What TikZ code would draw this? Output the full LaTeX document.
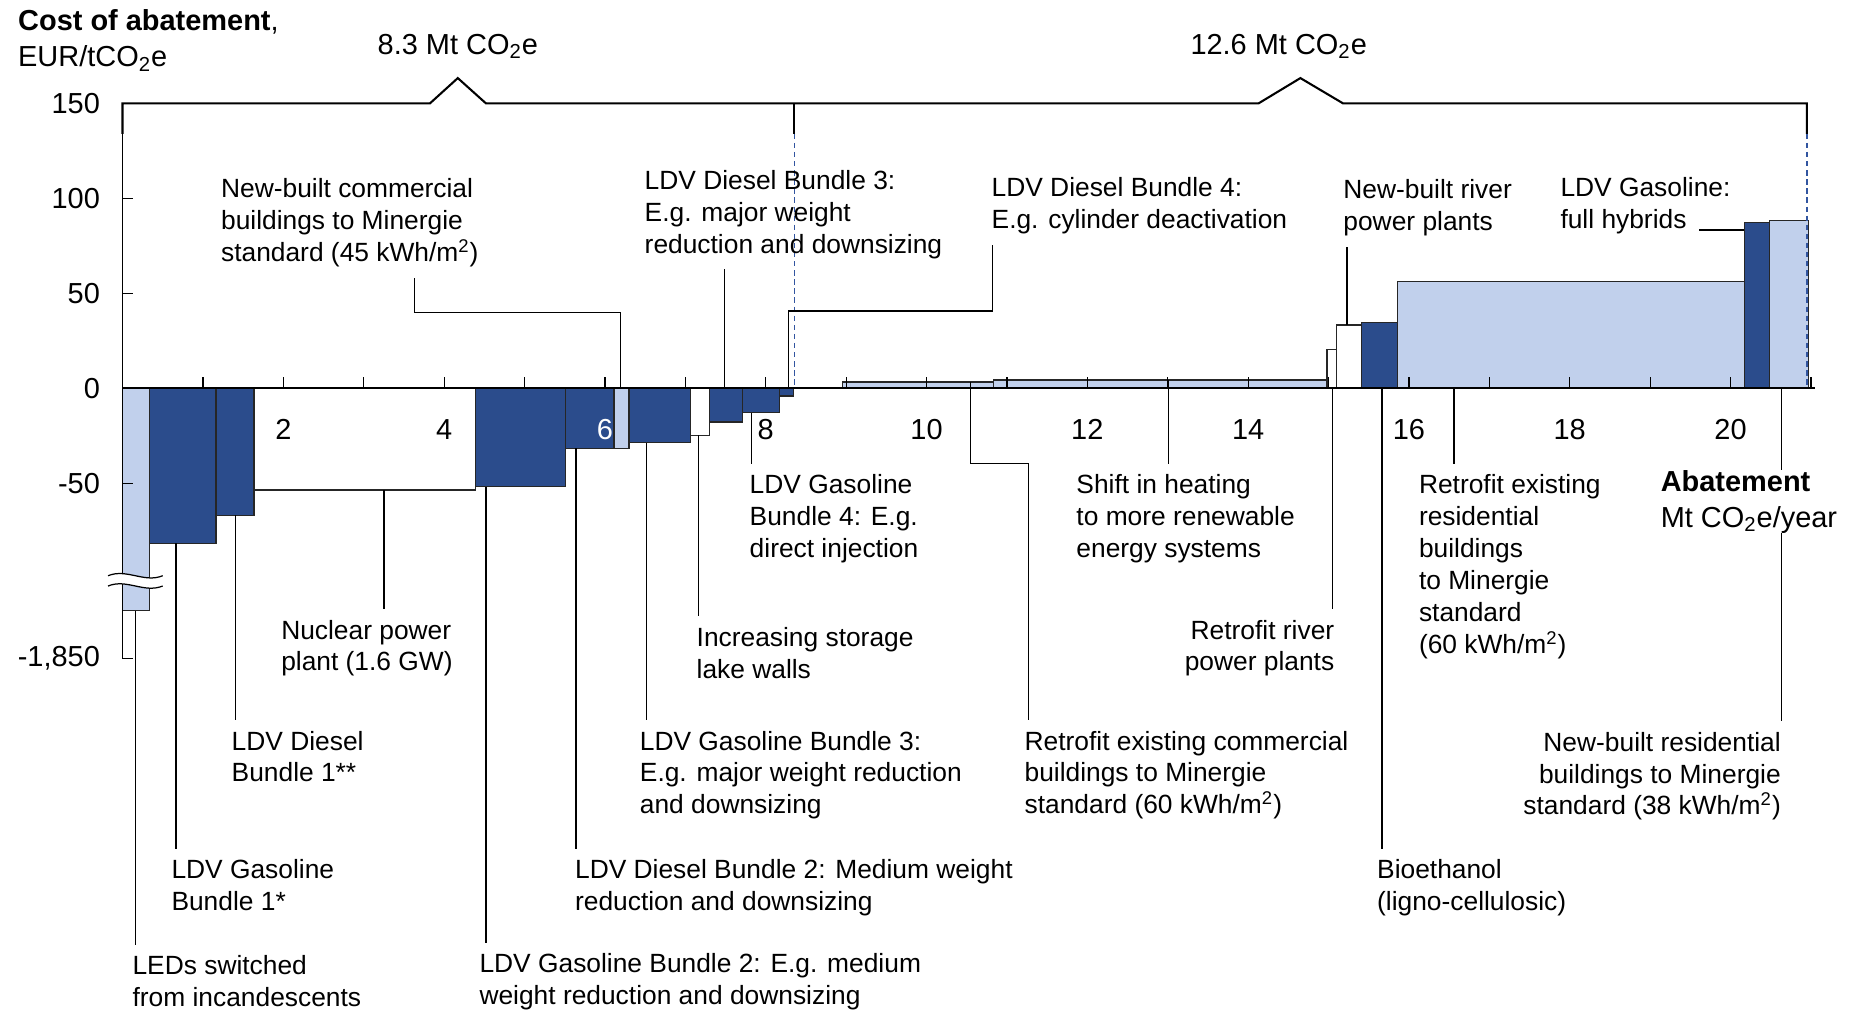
\documentclass[tikz,border=0pt]{standalone}
\usepackage{fontspec}
\setmainfont{Liberation Sans}
\usepackage{tikz}
\definecolor{macdark}{RGB}{43,76,140}
\definecolor{maclight}{RGB}{193,208,236}
\definecolor{macdash}{RGB}{50,85,160}
\tikzset{
  lbl/.style={font=\fontsize{12.75}{15.4}\selectfont, inner sep=0pt, align=left, anchor=north west},
  lblr/.style={lbl, align=right, anchor=north east},
  axlbl/.style={font=\fontsize{14}{17.4}\selectfont, inner sep=0pt},
  darkbar/.style={fill=macdark, draw=black!85, line width=0.6pt},
  lightbar/.style={fill=maclight, draw=black!85, line width=0.6pt},
  whitebar/.style={fill=white, draw=black!85, line width=0.6pt},
  leader/.style={draw=black, line width=0.6pt, shorten >=5pt},
  thinline/.style={line width=0.6pt},
  thickline/.style={line width=1pt},
  totdash/.style={macdash, line width=0.9pt, dash pattern=on 2.6pt off 1.8pt},
}

\begin{document}
\begin{tikzpicture}[x=1.3668cm, y=0.0323cm]
\useasboundingbox (-1.524,-328.3) rectangle (21.486,204.4);

% bars, left to right
\draw[lightbar] (0,0) rectangle (0.34,-117);
\draw[darkbar] (0.34,0) rectangle (1.163,-81.6);
\draw[darkbar] (1.163,0) rectangle (1.635,-66.7);
\draw[whitebar] (1.635,0) rectangle (4.393,-53.5);
\draw[darkbar] (4.393,0) rectangle (5.51,-51.8);
\draw[darkbar] (5.51,0) rectangle (6.113,-31.6);
\draw[lightbar] (6.113,0) rectangle (6.30,-31.6);
\draw[darkbar] (6.30,0) rectangle (7.06,-28.6);
\draw[whitebar] (7.06,0) rectangle (7.30,-24.6);
\draw[darkbar] (7.30,0) rectangle (7.714,-17.7);
\draw[darkbar] (7.714,0) rectangle (8.17,-12.8);
\draw[darkbar] (8.17,0) rectangle (8.344,-4);
\draw[lightbar] (8.957,0) rectangle (10.83,3.3);
\draw[lightbar] (10.83,0) rectangle (14.98,4.4);
\draw[whitebar] (14.98,0) rectangle (15.10,20.5);
\draw[whitebar] (15.10,0) rectangle (15.41,33.3);
\draw[darkbar] (15.41,0) rectangle (15.86,34.5);
\draw[lightbar] (15.86,0) rectangle (20.17,56.1);
\draw[darkbar] (20.17,0) rectangle (20.48,87.2);
\draw[lightbar] (20.48,0) rectangle (20.97,88.2);

% y axis with ticks
\draw[thinline] (0,150) -- (0,-142.2) -- (0.125,-142.2);
\foreach \c in {100,50,-50}
  \draw[thinline] (0,\c) -- (0.125,\c);

% axis break
\fill[white] (-0.18,-98.6) .. controls (0.05,-94.6) and (0.27,-102.6) .. (0.5,-98.6)
  -- (0.5,-104) .. controls (0.27,-108) and (0.05,-100) .. (-0.18,-104) -- cycle;
\draw[thinline] (-0.18,-98.6) .. controls (0.05,-94.6) and (0.27,-102.6) .. (0.5,-98.6);
\draw[thinline] (-0.18,-104) .. controls (0.05,-100) and (0.27,-108) .. (0.5,-104);

% x axis with ticks
\foreach \m in {1,...,21}
  \draw[thinline] (\m,0) -- (\m,5.8);
\draw[thickline] (0,0) -- (21.05,0);

% totals bracket
\draw[thickline] (0,134) -- (0,150) -- (3.824,150) -- (4.17,163.3) -- (4.52,150)
  -- (14.13,150) -- (14.65,163.3) -- (15.18,150) -- (20.95,150) -- (20.95,134);
\draw[thickline] (8.357,150) -- (8.357,134);
\draw[totdash] (8.357,134) -- (8.357,0);
\draw[totdash] (20.95,134) -- (20.95,0);
\node[axlbl, anchor=base] (tot1) at (4.17,175.8) {8.3 Mt CO\textsubscript{2}e};
\node[axlbl, anchor=base] (tot2) at (14.38,175.8) {12.6 Mt CO\textsubscript{2}e};

% axis labels
\node[axlbl, anchor=north west, align=left] (ytitle) at (-1.303,199.4)
  {\textbf{Cost of abatement},\\EUR/tCO\textsubscript{2}e};
\foreach \c in {150,100,50,0,-50}
  \node[axlbl, anchor=east] (yt\c) at (-0.276,\c) {\c};
\node[axlbl, anchor=east] (ytlow) at (-0.276,-142.2) {-1,850};
\foreach \m in {2,4,8,10,12,14,16,18,20}
  \node[axlbl] (xt\m) at (\m,-21.7) {\m};
\node[axlbl, text=white] (xt6) at (6,-21.7) {6};

% levers above the axis
\node[lbl] (nbc) at (1.221,110.6) {New-built commercial\\buildings to Minergie\\standard (45 kWh/m\textsuperscript{2})};
\node[lbl] (db3) at (6.49,114.9) {LDV Diesel Bundle 3:\\E.g. major weight\\reduction and downsizing};
\node[lbl] (db4) at (10.805,111.2) {LDV Diesel Bundle 4:\\E.g. cylinder deactivation};
\node[lbl] (nbr) at (15.18,110) {New-built river\\power plants};
\node[lbl] (fh) at (17.88,111.2) {LDV Gasoline:\\full hybrids};

% levers below the axis
\node[lbl] (led) at (0.12,-298.4) {LEDs switched\\from incandescents};
\node[lbl] (gb1) at (0.604,-247.7) {LDV Gasoline\\Bundle 1*};
\node[lbl] (db1) at (1.353,-180.1) {LDV Diesel\\Bundle 1**};
\node[lbl] (nuc) at (1.969,-121.7) {Nuclear power\\plant (1.6 GW)};
\node[lbl] (gb2) at (4.435,-297.2) {LDV Gasoline Bundle 2: E.g. medium\\weight reduction and downsizing};
\node[lbl] (db2) at (5.624,-247.7) {LDV Diesel Bundle 2: Medium weight\\reduction and downsizing};
\node[lbl] (gb3) at (6.43,-180.1) {LDV Gasoline Bundle 3:\\E.g. major weight reduction\\and downsizing};
\node[lbl] (lake) at (7.136,-125.4) {Increasing storage\\lake walls};
\node[lbl] (gb4) at (7.796,-45.3) {LDV Gasoline\\Bundle 4: E.g.\\direct injection};
\node[lbl] (rc) at (11.215,-180.1) {Retrofit existing commercial\\buildings to Minergie\\standard (60 kWh/m\textsuperscript{2})};
\node[lbl] (sh) at (11.86,-45.3) {Shift in heating\\to more renewable\\energy systems};
\node[lblr] (rr) at (15.076,-121.7) {Retrofit river\\power plants};
\node[lbl] (bio) at (15.6,-247.7) {Bioethanol\\(ligno-cellulosic)};
\node[lbl] (rres) at (16.12,-45.3) {Retrofit existing\\residential\\buildings\\to Minergie\\standard\\(60 kWh/m\textsuperscript{2})};
\node[lblr] (nbres) at (20.63,-180.7) {New-built residential\\buildings to Minergie\\standard (38 kWh/m\textsuperscript{2})};

% leader ends on the bars
\coordinate (ledp) at (0.164,-117);
\coordinate (gb1p) at (0.665,-81.6);
\coordinate (db1p) at (1.408,-66.7);
\coordinate (nucp) at (3.253,-53.5);
\coordinate (gb2p) at (4.52,-51.8);
\coordinate (db2p) at (5.64,-31.6);
\coordinate (nbcp) at (6.19,0);
\coordinate (nbck) at (3.63,0);
\coordinate (gb3p) at (6.52,-28.6);
\coordinate (lakep) at (7.162,-24.6);
\coordinate (db3p) at (7.49,0);
\coordinate (gb4p) at (7.826,-12.8);
\coordinate (db4p) at (8.28,0);
\coordinate (db4k) at (10.82,0);
\coordinate (rcp) at (10.55,3.3);
\coordinate (rck) at (11.27,0);
\coordinate (shp) at (13.01,4.4);
\coordinate (rrp) at (15.05,0);
\coordinate (nbrp) at (15.23,33.3);
\coordinate (biop) at (15.665,0);
\coordinate (rresp) at (16.56,0);
\coordinate (fhp) at (20.17,83.3);
\coordinate (nbresp) at (20.63,0);

% leaders
\draw[leader] (nbcp) -- ++(0,39.8) -| (nbc.south -| nbck);
\draw[leader] (db3p) -- (db3.south -| db3p);
\draw[leader] (db4p) -- ++(0,40.7) -| (db4.south -| db4k);
\draw[leader] (nbrp) -- (nbr.south -| nbrp);
\draw[leader, shorten >=0pt] (fhp) -- ++(-0.56,0);
\draw[leader] (ledp) -- (led.north -| ledp);
\draw[leader] (gb1p) -- (gb1.north -| gb1p);
\draw[leader] (db1p) -- (db1.north -| db1p);
\draw[leader] (nucp) -- (nuc.north -| nucp);
\draw[leader] (gb2p) -- (gb2.north -| gb2p);
\draw[leader] (db2p) -- (db2.north -| db2p);
\draw[leader] (gb3p) -- (gb3.north -| gb3p);
\draw[leader] (lakep) -- (lake.north -| lakep);
\draw[leader] (gb4p) -- (gb4.north -| gb4p);
\draw[leader] (rcp) -- ++(0,-43) -| (rc.north -| rck);
\draw[leader] (shp) -- (sh.north -| shp);
\draw[leader] (rrp) -- (rr.north -| rrp);
\draw[leader] (biop) -- (bio.north -| biop);
\draw[leader] (rresp) -- (rres.north -| rresp);
\draw[leader] (nbresp) -- (nbres.north -| nbresp);

% x axis title, over the last leader
\node[axlbl, anchor=north west, align=left, fill=white] (xtitle) at (19.127,-42.8)
  {\textbf{Abatement}\\Mt CO\textsubscript{2}e/year};
\end{tikzpicture}
\end{document}
